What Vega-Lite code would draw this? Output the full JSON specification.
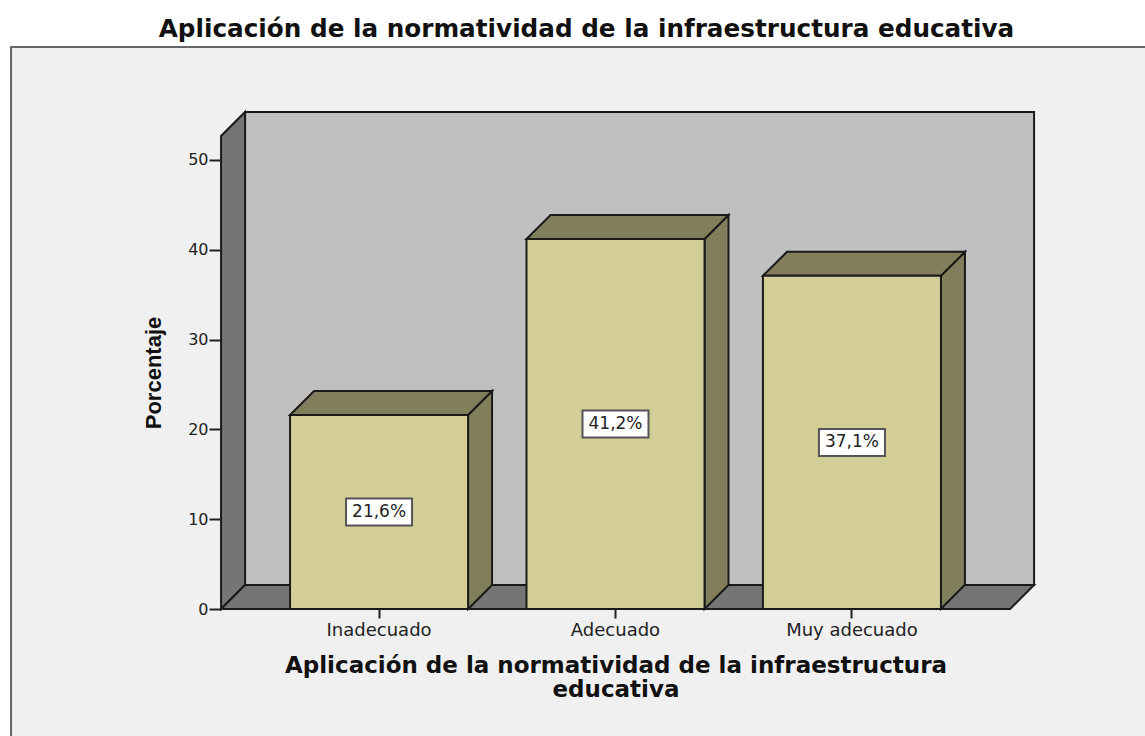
{
"$schema":"https://vega.github.io/schema/vega-lite/v6.json",
"width":789,"height":473,
"autosize":{"type":"none"},
"padding":{"left":221,"top":136,"right":135,"bottom":127},
"background":"#ffffff",
"title":{"text":"Aplicación de la normatividad de la infraestructura educativa","font":"DejaVu Sans","fontWeight":"bold","fontSize":24.7,"color":"#111111","anchor":"middle","dx":-29,"offset":1,"frame":"group"},
"config":{"view":{"stroke":null}},
"datasets":{"porcentajes":[
{"categoria":"Inadecuado","porcentaje":21.6,"etiqueta":"21,6%"},
{"categoria":"Adecuado","porcentaje":41.2,"etiqueta":"41,2%"},
{"categoria":"Muy adecuado","porcentaje":37.1,"etiqueta":"37,1%"}
]},
"layer":[
{"data":{"values":[{}]},"mark":{"type":"point","filled":true,"opacity":1,"size":4,"fill":"#f0f0f0","stroke":"#666666","strokeWidth":2,"shape":"M-368,-562 L771,-562 L771,131 L-368,131 Z"},
 "encoding":{"x":{"datum":"Inadecuado","type":"nominal"},"y":{"datum":0,"type":"quantitative"}}},
{"data":{"values":[{}]},"mark":{"type":"point","filled":true,"opacity":1,"size":4,"fill":"#c0c0c0","stroke":"#1a1a1a","strokeWidth":2,"shape":"M-134,-24 L655,-24 L655,-497 L-134,-497 Z"},
 "encoding":{"x":{"datum":"Inadecuado","type":"nominal"},"y":{"datum":0,"type":"quantitative"}}},
{"data":{"values":[{}]},"mark":{"type":"point","filled":true,"opacity":1,"size":4,"fill":"#757575","stroke":"#1a1a1a","strokeWidth":2,"shape":"M-158,0 L-134,-24 L-134,-497 L-158,-473 Z"},
 "encoding":{"x":{"datum":"Inadecuado","type":"nominal"},"y":{"datum":0,"type":"quantitative"}}},
{"data":{"values":[{}]},"mark":{"type":"point","filled":true,"opacity":1,"size":4,"fill":"#757575","stroke":"#1a1a1a","strokeWidth":2,"shape":"M-158,0 L631,0 L655,-24 L-134,-24 Z"},
 "encoding":{"x":{"datum":"Inadecuado","type":"nominal"},"y":{"datum":0,"type":"quantitative"}}},
{"data":{"name":"porcentajes"},
 "encoding":{
 "x":{"field":"categoria","type":"nominal","sort":null,
 "scale":{"domain":["Inadecuado","Adecuado","Muy adecuado"],"paddingInner":0.247,"paddingOuter":0.292},
 "axis":{"title":["Aplicación de la normatividad de la infraestructura","educativa"],"titleFont":"DejaVu Sans","titleFontWeight":"bold","titleFontSize":23,"titleColor":"#111111","titleLineHeight":24,"titlePadding":15,"labelFont":"DejaVu Sans","labelFontSize":18,"labelColor":"#222222","labelAngle":0,"labelAlign":"center","labelBaseline":"top","labelPadding":3,"tickSize":9,"tickColor":"#222222","tickWidth":2,"domain":false,"grid":false,"zindex":1}},
 "y":{"field":"porcentaje","type":"quantitative",
 "scale":{"domain":[0,52.67],"nice":false,"zero":true},
 "axis":{"title":"Porcentaje","titleFont":"Liberation Sans","titleFontWeight":"bold","titleFontSize":22,"titleColor":"#111111","titlePadding":22,"values":[0,10,20,30,40,50],"labelFont":"DejaVu Sans","labelFontSize":16,"labelColor":"#222222","labelPadding":1,"tickSize":12,"tickColor":"#222222","tickWidth":2,"domain":false,"grid":false,"zindex":1}}
 },
 "layer":[
 {"mark":{"type":"point","filled":true,"opacity":1,"size":4,"fill":"#817e5c","stroke":"#1a1a1a","strokeWidth":2},
  "encoding":{"shape":{"field":"categoria","type":"nominal","legend":null,"scale":{"domain":["Inadecuado","Adecuado","Muy adecuado"],"range":["M89,0 L113,-24 L113,170 L89,194 Z","M89,0 L113,-24 L113,346 L89,370 Z","M89,0 L113,-24 L113,309 L89,333 Z"]}}}},
 {"mark":{"type":"point","filled":true,"opacity":1,"size":4,"fill":"#817e5c","stroke":"#1a1a1a","strokeWidth":2,"shape":"M-89,0 L-65,-24 L113,-24 L89,0 Z"}},
 {"mark":{"type":"bar","fill":"#d3ce97","stroke":"#1a1a1a","strokeWidth":2}},
 {"transform":[{"calculate":"datum.porcentaje/2","as":"mitad"}],
  "layer":[
  {"mark":{"type":"point","filled":true,"opacity":1,"size":4,"fill":"#ffffff","stroke":"#555555","strokeWidth":2,"shape":"M-33,-13.5 L33,-13.5 L33,13.5 L-33,13.5 Z"},
   "encoding":{"y":{"field":"mitad","type":"quantitative"}}},
  {"mark":{"type":"text","font":"DejaVu Sans","fontSize":17,"color":"#222222","align":"center","baseline":"middle"},
   "encoding":{"y":{"field":"mitad","type":"quantitative"},"text":{"field":"etiqueta"}}}
  ]}
 ]}
]
}
